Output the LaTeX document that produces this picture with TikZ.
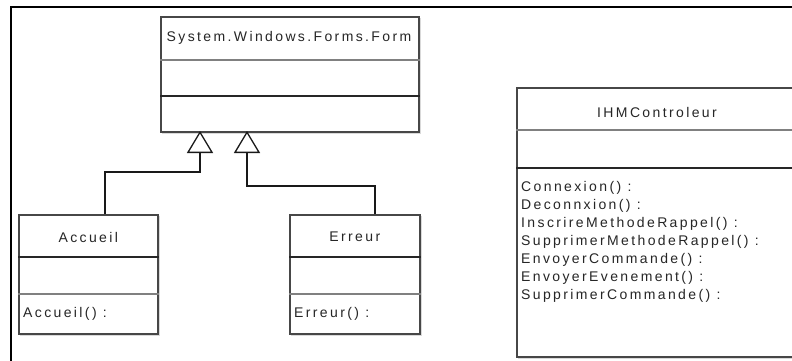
\documentclass[tikz,border=0pt]{standalone}
\usepackage{fontspec}
\setmainfont{Liberation Sans}[LetterSpace=17]
\usetikzlibrary{arrows.meta,calc}
\tikzset{
  cls/.style={draw=black!72, line width=1.6pt, fill=white, inner sep=0pt, anchor=north west},
  shadowbox/.style={fill=black!15},
  lbl/.style={inner sep=0pt, text=black!85, font=\fontsize{14}{16}\selectfont},
  meth/.style={lbl, anchor=west},
  divg/.style={draw=black!50, line width=1.8pt},
  divk/.style={draw=black!85, line width=1.1pt},
  conn/.style={draw=black!90, line width=1.7pt, -{Triangle[open, length=22pt, width=26pt, line width=1.3pt]}},
  frame/.style={draw=black, line width=2pt}
}
\begin{document}
\begin{tikzpicture}[x=1pt,y=-1pt]
\useasboundingbox (0,0) rectangle (792,361);
\clip (0,0) rectangle (792,361);
\fill[white] (0,0) rectangle (792,361);
% outer frame
\coordinate (fa) at (11,400);
\coordinate (fb) at (11,7);
\coordinate (fc) at (800,7);
\draw[frame] (fa) -- (fb) -- (fc);

% shadows
\fill[shadowbox] (162,18) rectangle (421,134);
\fill[shadowbox] (20,216) rectangle (160,336);
\fill[shadowbox] (291,216) rectangle (422,336);
\fill[shadowbox] (518,89) rectangle (800,359);

% Form class
\node[cls, minimum width=258, minimum height=115] (form) at (160,16) {};
\draw[divg] (form.west |- 0,60) -- (form.east |- 0,60);
\draw[divk] (form.west |- 0,96) -- (form.east |- 0,96);
\node[lbl] (formt) at (289,38) {System.Windows.Forms.Form};

% Accueil class
\node[cls, minimum width=139, minimum height=119] (acc) at (18,214) {};
\draw[divk] (acc.west |- 0,257) -- (acc.east |- 0,257);
\draw[divg] (acc.west |- 0,294) -- (acc.east |- 0,294);
\node[lbl] (acct) at (acc.north |- 0,237) {Accueil};
\node[meth] (accm) at (23,314) {Accueil() :};

% Erreur class
\node[cls, minimum width=130, minimum height=119] (err) at (289,214) {};
\draw[divk] (err.west |- 0,257) -- (err.east |- 0,257);
\draw[divg] (err.west |- 0,294) -- (err.east |- 0,294);
\node[lbl] (errt) at (err.north |- 0,237) {Erreur};
\node[meth] (errm) at (294,314) {Erreur() :};

% IHMControleur class
\node[cls, minimum width=282, minimum height=269] (ihm) at (516,87) {};
\draw[divg] (ihm.west |- 0,130) -- (ihm.east |- 0,130);
\draw[divk] (ihm.west |- 0,168) -- (ihm.east |- 0,168);
\node[lbl] (ihmt) at (657,112) {IHMControleur};
\node[meth] (m1) at (521,188) {Connexion() :};
\node[meth] (m2) at (521,206) {Deconnxion() :};
\node[meth] (m3) at (521,224) {InscrireMethodeRappel() :};
\node[meth] (m4) at (521,242) {SupprimerMethodeRappel() :};
\node[meth] (m5) at (521,260) {EnvoyerCommande() :};
\node[meth] (m6) at (521,278) {EnvoyerEvenement() :};
\node[meth] (m7) at (521,296) {SupprimerCommande() :};

% generalisation connectors
\coordinate (t1) at (200,131);
\coordinate (t2) at (247,131);
\draw[conn] ([xshift=16.5pt]acc.north) |- (200,172) -- (t1);
\draw[conn] ([xshift=20pt]err.north) |- (247,186) -- (t2);
\end{tikzpicture}
\end{document}
